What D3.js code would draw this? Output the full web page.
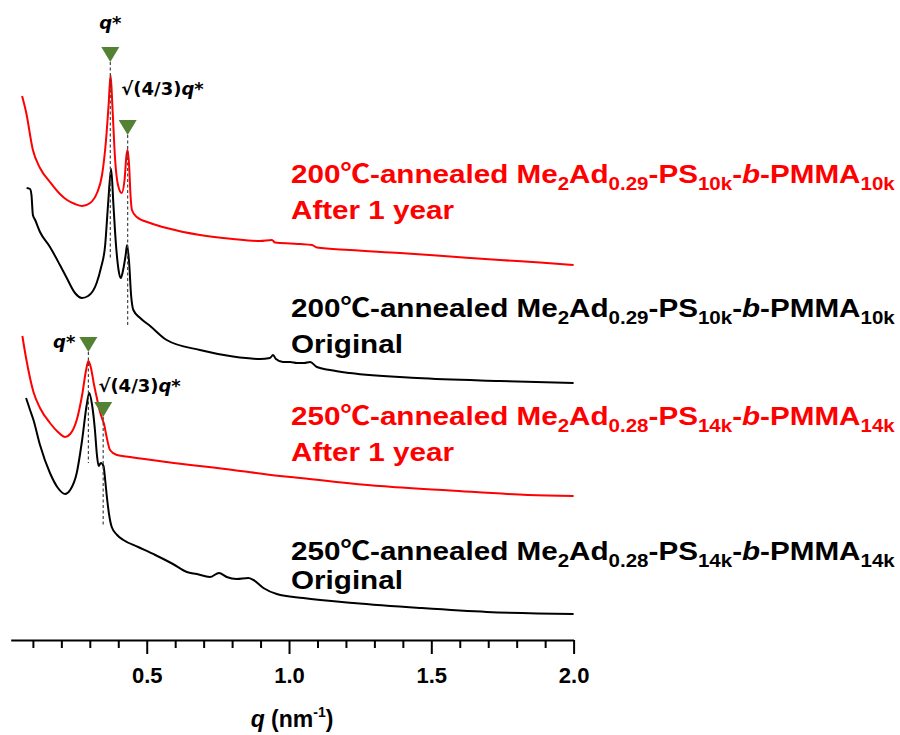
<!DOCTYPE html>
<html>
<head>
<meta charset="utf-8">
<script src="https://cdn.jsdelivr.net/npm/d3@7/dist/d3.min.js"></script>
<style>
body { margin: 0; background: #fff; }
svg { font-family: "Liberation Sans", Arial, "Noto Sans CJK SC", sans-serif; font-weight: bold; }
</style>
</head>
<body>
<svg id="chart" width="900" height="735"></svg>
<script>
// SAXS traces, [q (nm^-1), log intensity offset (a.u.)]
const red200 = [[0.062,544],[0.076,528],[0.100,490],[0.125,472],[0.160,458],[0.195,446],[0.220,440],[0.248,436],[0.273,434],
  [0.301,437],[0.325,447],[0.343,465],[0.357,500],[0.366,535],[0.373,565],[0.380,530],[0.389,480],[0.399,455],[0.412,447],
  [0.422,460],[0.429,485],[0.433,490],[0.438,475],[0.443,445],[0.448,430],[0.465,423],[0.512,417],[0.570,412],[0.687,405],
  [0.803,401],[0.898,399],[0.940,400],[0.951,397.5],[1.004,396.5],[1.039,396],[1.081,395],[1.098,392.5],[1.214,390],
  [1.390,387],[1.566,383.5],[1.741,380],[1.882,377.5],[2.000,375]];

const black200 = [[0.078,452],[0.090,451],[0.095,445],[0.100,425],[0.108,420],[0.125,408],[0.160,393],[0.195,375],[0.219,362],
  [0.248,347],[0.272,342],[0.294,344],[0.324,357],[0.339,372],[0.354,395],[0.364,435],[0.375,471],[0.383,435],[0.392,395],
  [0.401,370],[0.409,362],[0.417,370],[0.426,385],[0.431,395],[0.438,378],[0.445,345],[0.453,330],[0.477,322],[0.512,314],
  [0.570,300],[0.687,290],[0.803,283.5],[0.898,281],[0.933,282],[0.944,285],[0.954,281],[0.979,278],[1.004,278],[1.028,277],
  [1.053,277],[1.074,278],[1.098,273],[1.144,270],[1.214,267],[1.450,262],[1.741,259],[2.000,257]];

const red250 = [[0.063,304],[0.076,282],[0.102,248],[0.125,232],[0.160,217],[0.188,208],[0.213,203],[0.231,206],[0.254,220],
  [0.273,245],[0.287,270],[0.295,279],[0.304,272],[0.315,255],[0.324,243],[0.336,228],[0.345,220],[0.350,216],[0.357,206],
  [0.371,190],[0.395,185],[0.441,183],[0.570,178],[0.803,170],[0.968,164],[1.039,162],[1.320,154],[1.566,149.5],
  [1.840,145],[2.000,144]];

const black250 = [[0.076,242],[0.090,230],[0.102,220],[0.125,195],[0.160,167],[0.188,152],[0.213,146],[0.231,150],[0.254,167],
  [0.273,200],[0.289,235],[0.298,247],[0.308,235],[0.318,210],[0.325,185],[0.331,174],[0.339,177],[0.348,174],[0.354,160],
  [0.360,143],[0.368,125],[0.377,113],[0.396,105],[0.418,100],[0.470,93],[0.530,85],[0.592,76],[0.641,68],[0.676,66],
  [0.722,63],[0.754,67],[0.781,63],[0.816,61],[0.857,62],[0.875,60],[0.910,52],[0.957,46],[1.050,42],[1.226,37],
  [1.460,32],[1.695,28],[2.000,26]];

// peak markers: q position, apex level, end of the dashed guide
const markerQ = [0.372, 0.433, 0.295, 0.347];
const markerTop = [578, 505, 288, 223];
const markerBottom = [382, 315, 177, 115];

// tick values
const majorTicks = [0.5, 1.0, 1.5, 2.0];
const minorTicks = [0.1, 0.2, 0.3, 0.4, 0.6, 0.7, 0.8, 0.9, 1.1, 1.2, 1.3, 1.4, 1.6, 1.7, 1.8, 1.9];

// legend labels
const sampleLabels = [
  { color: 'red',   temp: '250', frac: '0.28', mw: '14k', note: 'After 1 year', lvl: 215, gap: 36 },
  { color: 'black', temp: '250', frac: '0.28', mw: '14k', note: 'Original', lvl: 80, gap: 29 },
  { color: 'red',   temp: '200', frac: '0.29', mw: '10k', note: 'After 1 year', lvl: 457, gap: 36 },
  { color: 'black', temp: '200', frac: '0.29', mw: '10k', note: 'Original', lvl: 323, gap: 36 }
];
const series = [
  { data: red200, color: '#ff0000' },
  { data: black200, color: '#000000' },
  { data: red250, color: '#ff0000' },
  { data: black250, color: '#000000' }
];

const svg = d3.select('#chart');
const x = d3.scaleLinear().domain([0.022, 2.0]).range([10.7, 573.6]);
const y = d3.scaleLinear().domain([0, 600]).range([640, 40]);
const axisY = 640;

// axis
const gMinor = svg.append('g').attr('transform', 'translate(0,' + axisY + ')')
  .call(d3.axisBottom(x).tickValues(minorTicks).tickSize(8).tickSizeOuter(0).tickFormat(''));
gMinor.select('.domain').attr('stroke-width', 2);
gMinor.selectAll('.tick line').attr('stroke-width', 2);

const gMajor = svg.append('g').attr('transform', 'translate(0,' + axisY + ')')
  .call(d3.axisBottom(x).tickValues(majorTicks).tickSize(14).tickSizeOuter(0).tickPadding(13).tickFormat(d3.format('.1f')));
gMajor.select('.domain').remove();
gMajor.selectAll('.tick line').attr('stroke-width', 2);
gMajor.selectAll('.tick text')
  .attr('font-size', 22).attr('font-weight', 'bold')
  .attr('font-family', '"Liberation Sans", Arial, sans-serif').attr('fill', '#000');

const title = svg.append('text')
  .attr('x', x(1.0) + 3).attr('y', 727)
  .attr('text-anchor', 'middle').attr('font-size', 23);
title.append('tspan').attr('font-style', 'italic').text('q');
title.append('tspan').text(' (nm');
title.append('tspan').attr('font-size', 14).attr('dy', -10).text('-1');
title.append('tspan').attr('dy', 10).text(')');

// curves
const line = d3.line().x(d => x(d[0])).y(d => y(d[1])).curve(d3.curveMonotoneX);
svg.append('g').selectAll('path')
  .data(series)
  .enter().append('path')
  .attr('d', d => line(d.data))
  .attr('fill', 'none')
  .attr('stroke', d => d.color)
  .attr('stroke-width', 2)
  .attr('stroke-linejoin', 'round');

// dashed guides and triangle markers
const markers = markerQ.map((q, i) => ({ q: q, top: markerTop[i], bottom: markerBottom[i] }));
svg.append('g').selectAll('line')
  .data(markers)
  .enter().append('line')
  .attr('x1', d => x(d.q)).attr('x2', d => x(d.q))
  .attr('y1', d => y(d.top)).attr('y2', d => y(d.bottom))
  .attr('stroke', '#444').attr('stroke-width', 1.2).attr('stroke-dasharray', '3,2.5');

svg.append('g').selectAll('path')
  .data(markers)
  .enter().append('path')
  .attr('d', d => {
    const cx = x(d.q), cy = y(d.top);
    return 'M' + (cx - 9) + ',' + (cy - 15) + 'L' + (cx + 9) + ',' + (cy - 15) + 'L' + cx + ',' + cy + 'Z';
  })
  .attr('fill', '#548235');

// peak labels
function peakLabel(px, py, anchor, root) {
  const t = svg.append('text').attr('x', px).attr('y', py)
    .attr('text-anchor', anchor).attr('font-size', 18).attr('fill', '#000')
    .attr('font-family', '"DejaVu Sans", sans-serif');
  if (root) t.append('tspan').text('\u221A(4/3)');
  t.append('tspan').attr('font-style', 'italic').text('q*');
}
peakLabel(x(markerQ[0]), 29, 'middle', false);
peakLabel(x(markerQ[0]) + 11, 95, 'start', true);
peakLabel(x(markerQ[2]) - 13, 348, 'end', false);
peakLabel(x(markerQ[2]) + 10, 392, 'start', true);

// sample legends (the source font is set a little wider than Arial)
const legendX = 291;
sampleLabels.forEach(s => {
  const base = y(s.lvl);
  const g = svg.append('g').attr('transform', 'translate(' + legendX + ',' + base + ') scale(1.14,1)');
  const t = g.append('text').attr('font-size', 26).attr('fill', s.color);
  const parts = [
    [s.temp + '\u2103-annealed Me'], ['2', 'sub'], ['Ad'], [s.frac, 'sub'], ['-PS'], [s.mw, 'sub'],
    ['-'], ['b', 'it'], ['-PMMA'], [s.mw, 'sub']
  ];
  let shifted = false;
  parts.forEach(p => {
    const sp = t.append('tspan').text(p[0]);
    if (p[1] === 'sub') { sp.attr('font-size', 18).attr('dy', shifted ? 0 : 7); shifted = true; }
    else { if (shifted) sp.attr('dy', -7); shifted = false; }
    if (p[1] === 'it') sp.attr('font-style', 'italic');
  });
  g.append('text').attr('y', s.gap)
    .attr('font-size', 26).attr('fill', s.color).text(s.note);
});
</script>
</body>
</html>
